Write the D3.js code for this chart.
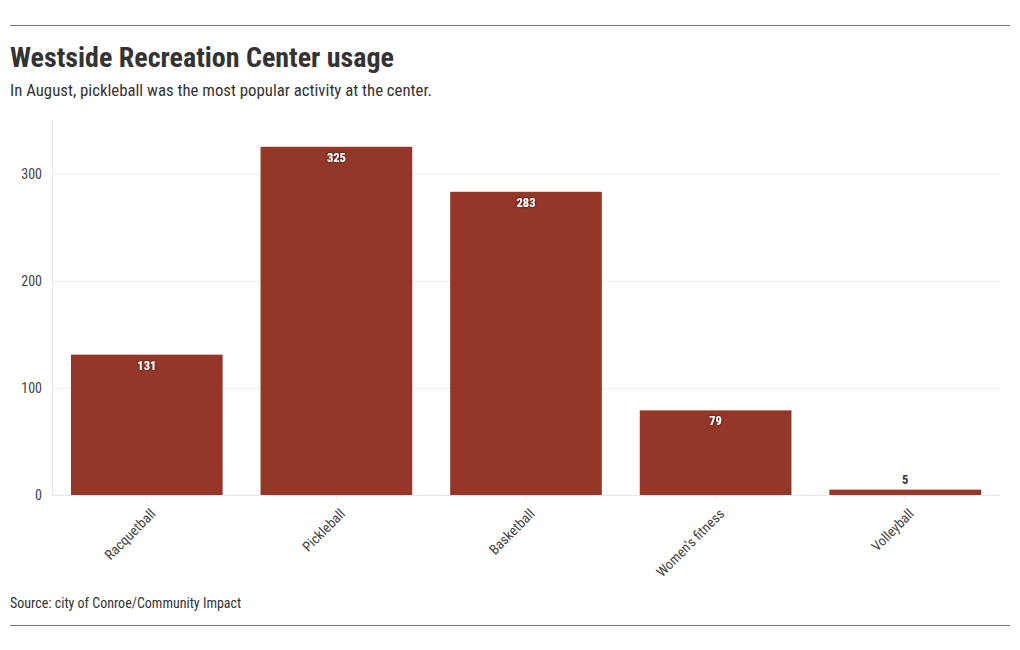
<!DOCTYPE html>
<html><head><meta charset="utf-8">
<script src="https://cdn.jsdelivr.net/npm/d3@7"></script>
<style>
body{margin:0;background:#fff;}
text{font-family:"Roboto Condensed","Liberation Sans Narrow","Roboto",sans-serif;}
</style></head><body>
<svg id="c" width="1020" height="650"></svg>
<script>
const categories = ["Racquetball","Pickleball","Basketball","Women's fitness","Volleyball"];
const values = [131,325,283,79,5];
const yTicks = [0,100,200,300];
const title = "Westside Recreation Center usage";
const subtitle = "In August, pickleball was the most popular activity at the center.";
const source = "Source: city of Conroe/Community Impact";

const svg = d3.select("#c");
const x = d3.scaleBand().domain(categories).range([52,1000]).paddingInner(0.2).paddingOuter(0.1);
const y = d3.scaleLinear().domain([0,350]).range([495,120]);

svg.append("line").attr("x1",10).attr("x2",1010).attr("y1",25.5).attr("y2",25.5).attr("stroke","#777");
svg.append("line").attr("x1",10).attr("x2",1010).attr("y1",625.5).attr("y2",625.5).attr("stroke","#777");
svg.append("text").attr("x",10).attr("y",67).attr("font-size",28).attr("font-weight","bold").attr("fill","#333").text(title);
svg.append("text").attr("x",10).attr("y",96).attr("font-size",16.8).attr("fill","#333").text(subtitle);
svg.append("text").attr("x",10).attr("y",608).attr("font-size",14).attr("fill","#333").text(source);

// grid
const gy = svg.append("g").attr("transform","translate(52,0)")
  .call(d3.axisLeft(y).tickValues(yTicks).tickSize(-948).tickPadding(10));
gy.select(".domain").remove();
gy.selectAll(".tick line").attr("stroke","#ececec");
gy.selectAll(".tick text").attr("font-size",14).attr("fill","#444").attr("font-family",null);
svg.append("line").attr("x1",52.5).attr("x2",52.5).attr("y1",120).attr("y2",495).attr("stroke","#e8e8e8");

// bars
svg.append("g").selectAll("rect").data(values).join("rect")
  .attr("x",(d,i)=>x(categories[i])).attr("width",x.bandwidth())
  .attr("y",d=>y(d)).attr("height",d=>y(0)-y(d)).attr("fill","#943728");

// x axis
const gx = svg.append("g").attr("transform","translate(0,495)")
  .call(d3.axisBottom(x).tickSize(5).tickSizeOuter(0));
gx.select(".domain").attr("stroke","#e8e8e8");
gx.selectAll(".tick line").attr("stroke","#e8e8e8");
gx.selectAll(".tick text").attr("font-size",14).attr("fill","#444").attr("font-family",null)
  .attr("text-anchor","end").attr("dy",null).attr("transform","translate(4,14) rotate(-45)");

// value labels
const defs = svg.append("defs");
const f = defs.append("filter").attr("id","sh").attr("x","-50%").attr("y","-50%").attr("width","200%").attr("height","200%");
f.append("feDropShadow").attr("dx",0).attr("dy",0).attr("stdDeviation",1.2).attr("flood-color","#000").attr("flood-opacity",0.8);
svg.append("g").selectAll("text").data(values).join("text")
  .attr("x",(d,i)=>x(categories[i])+x.bandwidth()/2)
  .attr("y",d=> (y(0)-y(d) > 25) ? y(d)+15 : y(d)-6)
  .attr("text-anchor","middle").attr("font-size",12.5).attr("font-weight","bold")
  .attr("fill",d=> (y(0)-y(d) > 25) ? "#fff" : "#333")
  .attr("filter",d=> (y(0)-y(d) > 25) ? "url(#sh)" : null)
  .text(d=>d);
</script></body></html>
